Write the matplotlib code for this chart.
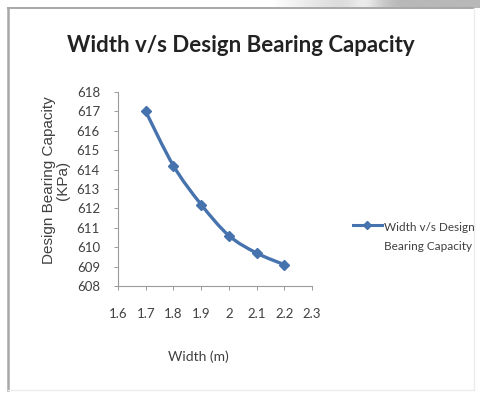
import matplotlib.pyplot as plt
import numpy as np
from matplotlib.path import Path
from matplotlib.patches import PathPatch
from matplotlib.lines import Line2D

# Footing width (m) and design bearing capacity (kPa)
width = [1.7, 1.8, 1.9, 2.0, 2.1, 2.2]
capacity = [617.0, 614.2, 612.2, 610.6, 609.7, 609.1]

x_ticks = [1.6, 1.7, 1.8, 1.9, 2.0, 2.1, 2.2, 2.3]
x_tick_labels = ['1.6', '1.7', '1.8', '1.9', '2', '2.1', '2.2', '2.3']
y_ticks = list(range(608, 619))

line_color = '#4672AE'
text_color = '#404040'
W, H = 481, 403


def smooth_path(xs, ys, tension=1 / 6):
    # Bezier segments through the points, like a spreadsheet "smoothed line"
    pts = np.column_stack([xs, ys])
    verts = [pts[0]]
    codes = [Path.MOVETO]
    n = len(pts)
    for i in range(n - 1):
        p0 = pts[i - 1] if i > 0 else pts[i]
        p1, p2 = pts[i], pts[i + 1]
        p3 = pts[i + 2] if i + 2 < n else pts[i + 1]
        c1 = p1 + (p2 - p0) * tension
        c2 = p2 - (p3 - p1) * tension
        verts += [c1, c2, p2]
        codes += [Path.CURVE4] * 3
    return Path(verts, codes)


fig = plt.figure(figsize=(W / 100, H / 100), dpi=100)
fig.patch.set_facecolor('white')

# grey band of the page edge at the top right
grad = fig.add_axes([270 / W, 1 - 8 / H, 1 - 270 / W, 8 / H])
g = np.linspace(0, 1, 200)
shade = 1 - 0.28 * np.clip(g * 1.6, 0, 1) + 0.12 * np.exp(-((g - 0.45) / 0.08) ** 2)
grad.imshow(shade[None, :], cmap='gray', vmin=0, vmax=1, aspect='auto')
grad.set_axis_off()

# chart frame
fig.add_artist(Line2D([8 / W, 8 / W], [1 - 8 / H, 1 - 390 / H], color='#a8a8a8', lw=1.8,
                      transform=fig.transFigure))
fig.add_artist(Line2D([8 / W, 474 / W], [1 - 8 / H, 1 - 8 / H], color='#a8a8a8', lw=1.4,
                      transform=fig.transFigure))
fig.add_artist(Line2D([474 / W, 474 / W], [1 - 8 / H, 1 - 390 / H], color='#ececec', lw=1,
                      transform=fig.transFigure))
fig.add_artist(Line2D([8 / W, 474 / W], [1 - 390 / H, 1 - 390 / H], color='#ececec', lw=1,
                      transform=fig.transFigure))

ax = fig.add_axes([118 / W, 1 - 286 / H, (312 - 118) / W, (286 - 92) / H])
ax.set_xlim(1.6, 2.3)
ax.set_ylim(608, 618)

ax.add_patch(PathPatch(smooth_path(width, capacity), facecolor='none',
                       edgecolor=line_color, lw=2.4, capstyle='round'))
ax.plot(width, capacity, linestyle='none', marker='D', markersize=5.5,
        color=line_color)

for side in ['top', 'right']:
    ax.spines[side].set_visible(False)
for side in ['left', 'bottom']:
    ax.spines[side].set_color('#9a9a9a')
    ax.spines[side].set_linewidth(0.8)

ax.set_xticks(x_ticks)
ax.set_xticklabels(x_tick_labels)
ax.set_yticks(y_ticks)
ax.tick_params(axis='both', direction='out', length=3, width=0.7, color='#9a9a9a',
               labelsize=9.5, labelcolor=text_color)
ax.tick_params(axis='x', pad=13)
ax.tick_params(axis='y', pad=10)
for lab in ax.get_xticklabels() + ax.get_yticklabels():
    lab.set_family('Lato')

fig.text(0.5, 1 - 45 / H, 'Width v/s Design Bearing Capacity', ha='center', va='center',
         fontsize=16, fontweight='bold', family='Lato', color='#222222')

fig.text(56 / W, 1 - 180 / H, 'Design Bearing Capacity\n(KPa)', rotation=90,
         ha='center', va='center', fontsize=11, family='Liberation Sans',
         color=text_color, linespacing=1.05)

fig.text(198 / W, 1 - 357 / H, 'Width (m)', ha='center', va='center', fontsize=10,
         family='Lato', color=text_color)

# legend entry drawn by hand on the right
fig.add_artist(Line2D([353 / W, 382 / W], [1 - 225 / H, 1 - 225 / H], color=line_color,
                      lw=2.2, transform=fig.transFigure))
fig.add_artist(Line2D([367.5 / W], [1 - 225 / H], color=line_color, marker='D',
                      markersize=4.5, transform=fig.transFigure))
fig.text(384 / W, 1 - 237 / H, 'Width v/s Design\nBearing Capacity', ha='left', va='center',
         fontsize=8.5, family='Lato', color=text_color, linespacing=1.8)

fig.savefig('out.png', dpi=100)
